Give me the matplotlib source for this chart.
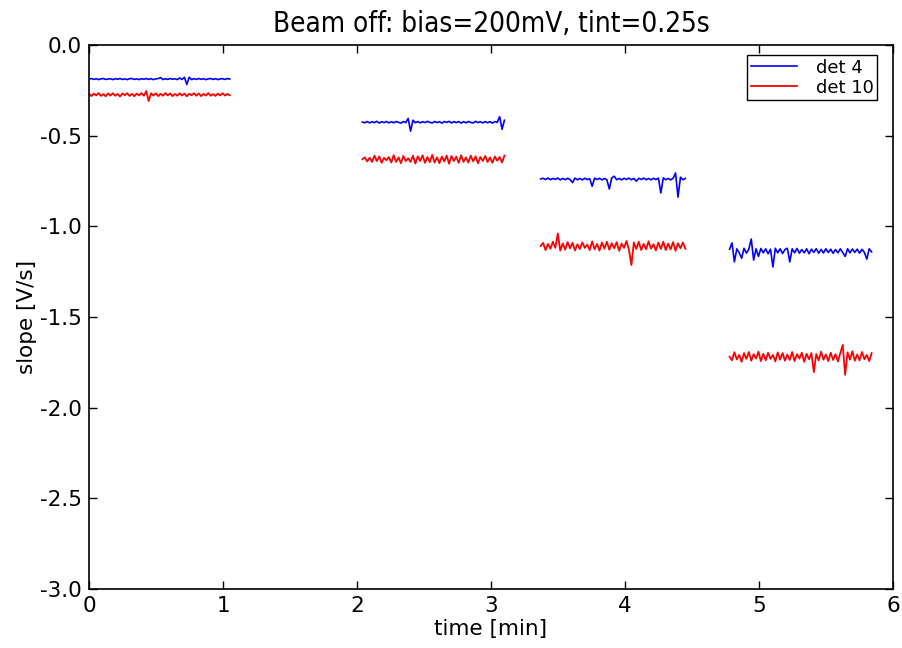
import numpy as np
import matplotlib
matplotlib.use('Agg')
import matplotlib.pyplot as plt

# Data: four measurement blocks, (t_start, t_end) in minutes
seg_t = [(0.0, 1.05), (2.04, 3.10), (3.37, 4.45), (4.78, 5.84)]

# mean slope of each block [V/s]
det4_level = [-0.188, -0.425, -0.739, -1.136]
det10_level = [-0.274, -0.630, -1.109, -1.719]

# deviations from the block mean, in units of 0.01 V/s
det4_dev = [
    [0, .3, -.2, .2, -.3, .1, .3, -.2, 0, .2, -.3, .2, -.1, .3, -.2, .1, -.3, .2, .3, -.2,
     .1, -.3, .2, -.1, .3, -.2, .2, -.3, .1, .3, .8, -.3, .2, -.2, .3, -.1, .2, -.3, .6, -.2,
     1, -3, 1, -.3, .2, -.2, .3, -.1, .2, -.3, .1, .3, -.2, .2, -.3, .1, .2, -.2, .3, 0],
    [0, -.4, .3, -.5, .2, -.3, .4, -.6, .2, -.3, .3, -.5, .2, -.4, .3, -.2, -.6, .3, -.3, 2,
     -5, 1, -.4, .3, -.5, .2, -.3, .4, -.2, -.5, .3, -.3, .2, -.6, .3, -.2, .4, -.5, .2, -.3,
     .3, -.6, .2, -.4, .3, -.2, -.5, .4, -.3, .2, -.5, .3, -.4, .2, -.6, .3, -.2, 3, -4, 1],
    [0, .4, -.3, .5, -.4, .3, -.2, .5, -.5, .3, -.4, .4, -.3, -2, .5, -.4, .3, -.5, .4, -.3,
     .2, -4, .5, -.3, .4, -.5, .3, -.4, -5.5, .6, 1.5, -.4, .3, -.5, .4, -.3, .5, -.4, .3, -1.2,
     .4, -.3, .5, -.4, .3, -.5, .4, -.3, .5, -7.7, .6, -.4, .3, -.5, .4, 3.3, -10, 1, -.4, .3],
    [1, 4.4, -6, 1.2, -1, -4, 1.5, -1.2, 1, 6.6, -5, 1.2, -3, 1.4, -1, 1.2, -1.5, 1, -8.8, 1.5,
     -1, 1.2, -1.4, .8, 1.5, -6, 1.2, -1, 1.4, -1.2, .8, -1, 1.2, -1.5, 1, -.8, 1.3, -1.2, .9, -1.1,
     1.2, -.8, 1, -1.3, .8, -1, 1.2, -.9, -3, 1.2, -1, 1.1, -.8, 1, -1.2, .9, -.8, -4.5, 1.2, -.5],
]

det10_dev = [
    [.5, -.8, .6, -.4, .9, -.7, .3, -.9, .7, -.5, .8, -.6, .4, -1, .7, -.3, .8, -.7, .5, -.9,
     .6, -.4, .9, -.6, 2, -3.5, .8, -.5, .7, -.8, .5, -.6, .9, -.4, .7, -.8, .4, -.6, .8, -.5,
     .6, -.9, .5, -.3, .8, -.6, .7, -.8, .4, -.5, .9, -.6, .3, -.7, .6, -.4, .8, -.5, .4, -.3],
    [0, 1, -1.2, .8, -1.5, 2, -1, 1.5, -2, .8, -.6, 1.2, -1.8, 2.2, -1.5, 1, -2.2, 1.8, -1, .5,
     -1.5, 2, -2.4, 1.6, -1, 2.2, -2, 1.2, -1.6, 2.4, -1.8, 1, -2.2, 1.5, -1.2, 2, -2.5, 1.8, -1, 1.4,
     -2, 2.2, -1.5, 1, -1.8, 2, -1.2, 1.6, -2.2, 1.2, -1, 1.8, -1.5, 1, -2, 1.5, -.8, 1.2, -1.8, 2],
    [0, 1.8, -2.2, 1.2, -1.5, 2.4, -1, 7, -2.5, 1.5, -2, 2.2, -1.2, 1.8, -2.4, 1, -1.6, 2, -1, .8,
     -2.2, 2.6, -1.8, 1.2, -2.5, 2, -1.4, 2.4, -2, 1.6, -1.2, 2.2, -2.6, 1.4, -1, 2.8, -2, -10.5, 2, -1.6,
     2.4, -2.2, 1.2, -1.8, 2.6, -1.4, 1, -2.4, 2, -1.6, 2.4, -2.2, 1.4, -1.8, 2.2, -2.6, 1.6, -1.2, 2, -1.5],
    [0, -2, 2.5, -1.5, 1, -2.8, 2, -1.2, 2.6, -2.2, 1.4, -1, 2.8, -2.4, 1.6, -2, 2.2, -1.2, 1, -2.6,
     2.4, -1.6, 2, -2.2, 1.2, -1.8, 2.6, -2.4, 1.4, -1, 2.2, -2.8, 1.6, -1.4, 2, -8.5, 1.5, -2, 2.8, -1.6,
     1.2, -2.4, 2.2, -1.8, 1.4, -2.6, 2, 6.5, -10, 2.4, -1.6, 3, -2.2, 1.2, -2, 2.6, -1.4, 1, -2.4, 2],
]

plt.rcParams['axes.unicode_minus'] = False
plt.rcParams['xtick.direction'] = 'in'
plt.rcParams['ytick.direction'] = 'in'
plt.rcParams['xtick.top'] = True
plt.rcParams['ytick.right'] = True

fig = plt.figure(figsize=(9.03, 6.48), dpi=100)
ax = fig.add_axes([0.0986, 0.091, 0.8904, 0.8396])

for i, (t0, t1) in enumerate(seg_t):
    d4 = det4_level[i] + 0.01 * np.array(det4_dev[i])
    d10 = det10_level[i] + 0.01 * np.array(det10_dev[i])
    ax.plot(np.linspace(t0, t1, len(d4)), d4, 'b-', lw=1.2,
            label='det 4' if i == 0 else None)
    ax.plot(np.linspace(t0, t1, len(d10)), d10, 'r-', lw=1.3,
            label='det 10' if i == 0 else None)

ax.set_xlim(0, 6)
ax.set_ylim(-3.0, 0.0)
ax.set_xticks(range(7))
yt = np.arange(-3.0, 0.01, 0.5)
ax.set_yticks(yt)
ax.set_yticklabels(['%.1f' % v for v in yt])
ax.tick_params(labelsize=15.5, length=6, width=1, pad=5)
ax.set_xlabel('time [min]', fontsize=15.5, labelpad=2)
ax.set_ylabel('slope [V/s]', fontsize=15.5, labelpad=2)
ax.set_title('Beam off: bias=200mV, tint=0.25s', fontsize=20,
             fontstretch='condensed', pad=9)
for s in ax.spines.values():
    s.set_linewidth(1.2)

leg = ax.legend(loc='upper right', bbox_to_anchor=(0.980, 0.9816), borderaxespad=0,
                fontsize=13, fancybox=False, framealpha=1, handlelength=2.6,
                handletextpad=1.0, borderpad=0.2, labelspacing=0.12)
leg.get_frame().set_edgecolor('black')

fig.savefig('out.png', dpi=100, facecolor='white')
